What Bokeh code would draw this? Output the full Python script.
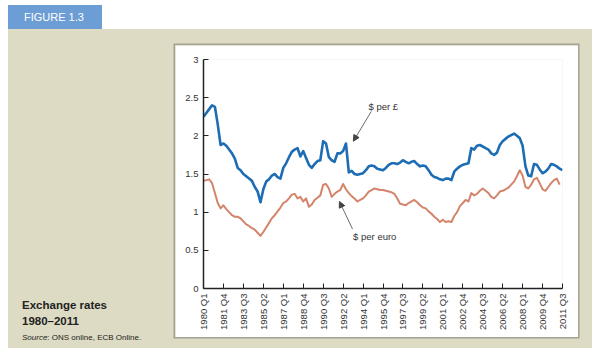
import math
from bokeh.plotting import figure
from bokeh.layouts import column, row
from bokeh.models import FixedTicker, Label, Arrow, NormalHead, Div
from bokeh.embed import file_html
from bokeh.resources import INLINE

# ---- data (quarterly, 1980 Q1 .. 2011 Q3) ----
usd_per_gbp = [
    2.25, 2.30, 2.35, 2.40, 2.38, 2.15, 1.88, 1.90, 1.87, 1.82,
    1.77, 1.70, 1.58, 1.55, 1.50, 1.47, 1.44, 1.41, 1.33, 1.27,
    1.13, 1.30, 1.40, 1.43, 1.48, 1.50, 1.46, 1.44, 1.58, 1.64,
    1.72, 1.79, 1.82, 1.84, 1.73, 1.80, 1.71, 1.62, 1.58, 1.63,
    1.67, 1.68, 1.93, 1.90, 1.72, 1.68, 1.66, 1.77, 1.77, 1.80,
    1.90, 1.52, 1.54, 1.50, 1.49, 1.50, 1.51, 1.55, 1.60, 1.61,
    1.60, 1.57, 1.56, 1.55, 1.58, 1.62, 1.64, 1.64, 1.63, 1.65,
    1.68, 1.66, 1.64, 1.66, 1.67, 1.63, 1.60, 1.61, 1.60, 1.55,
    1.49, 1.46, 1.45, 1.43, 1.42, 1.44, 1.44, 1.42, 1.53, 1.57,
    1.60, 1.62, 1.63, 1.64, 1.84, 1.82, 1.87, 1.88, 1.86, 1.84,
    1.82, 1.77, 1.75, 1.78, 1.88, 1.93, 1.96, 1.99, 2.01, 2.03,
    2.00, 1.97, 1.87, 1.60, 1.48, 1.47, 1.63, 1.62, 1.56, 1.51,
    1.53, 1.57, 1.63, 1.62, 1.60, 1.57, 1.55,
]
usd_per_euro = [
    1.41, 1.42, 1.43, 1.38, 1.25, 1.12, 1.05, 1.09, 1.04, 1.00,
    0.96, 0.94, 0.94, 0.92, 0.88, 0.84, 0.82, 0.79, 0.77, 0.73,
    0.69, 0.74, 0.80, 0.86, 0.92, 0.96, 1.01, 1.06, 1.12, 1.14,
    1.18, 1.23, 1.24, 1.18, 1.20, 1.14, 1.18, 1.07, 1.10, 1.16,
    1.19, 1.22, 1.36, 1.37, 1.31, 1.20, 1.24, 1.27, 1.29, 1.37,
    1.30, 1.25, 1.21, 1.18, 1.14, 1.16, 1.18, 1.22, 1.27, 1.29,
    1.31, 1.30, 1.29, 1.29, 1.28, 1.27, 1.26, 1.24, 1.18, 1.11,
    1.10, 1.09, 1.12, 1.14, 1.16, 1.13, 1.09, 1.06, 1.05, 1.01,
    0.98, 0.94, 0.91, 0.87, 0.90, 0.87, 0.88, 0.87, 0.95, 1.00,
    1.08, 1.12, 1.16, 1.14, 1.25, 1.22, 1.24, 1.28, 1.31, 1.28,
    1.25, 1.20, 1.18, 1.22, 1.27, 1.28, 1.30, 1.32, 1.36, 1.40,
    1.47, 1.55, 1.48, 1.33, 1.31, 1.36, 1.43, 1.45, 1.38, 1.30,
    1.28, 1.33, 1.38, 1.42, 1.44, 1.36,
]
tick_labels = [
    "1980 Q1", "1981 Q4", "1983 Q3", "1985 Q2", "1987 Q1", "1988 Q4",
    "1990 Q3", "1992 Q2", "1994 Q1", "1995 Q4", "1997 Q3", "1999 Q2",
    "2001 Q1", "2002 Q4", "2004 Q3", "2006 Q2", "2008 Q1", "2009 Q4", "2011 Q3",
]
y_ticks = [0, 0.5, 1, 1.5, 2, 2.5, 3]
y_tick_labels = ["0", "0.5", "1", "1.5", "2", "2.5", "3"]

quarter_gbp = list(range(len(usd_per_gbp)))
quarter_eur = list(range(len(usd_per_euro)))
tick_pos = [7 * i for i in range(len(tick_labels))]

BEIGE = "#dddbc3"
BLUE = "#1d6db4"
SALMON = "#d4846b"
TAB_BLUE = "#6c9dd5"
FONT = "Liberation Sans"
CSS_FONT = "'Liberation Sans', Arial, sans-serif"

# ---- chart ----
p = figure(width=403, height=292, output_backend="svg", toolbar_location=None,
           x_range=(0, 126), y_range=(0, 3),
           min_border_left=28, min_border_right=16, min_border_top=14, min_border_bottom=49,
           margin=(16, 14, 11, 0),
           styles={"box-shadow": "0 0 0 1.5px #a3a293"})
p.border_fill_color = "white"
p.background_fill_color = "white"
p.outline_line_color = None
p.xgrid.visible = False
p.ygrid.visible = False

p.line(quarter_gbp, usd_per_gbp, line_color=BLUE, line_width=2.6, line_join="round")
p.line(quarter_eur, usd_per_euro, line_color=SALMON, line_width=2.0, line_join="round")

p.xaxis.ticker = FixedTicker(ticks=tick_pos)
p.xaxis.major_label_overrides = {t: lab for t, lab in zip(tick_pos, tick_labels)}
p.xaxis.major_label_orientation = math.pi / 2
p.yaxis.ticker = FixedTicker(ticks=y_ticks)
p.yaxis.major_label_overrides = {t: lab for t, lab in zip(y_ticks, y_tick_labels)}
for ax in (p.xaxis[0], p.yaxis[0]):
    ax.axis_line_color = "#222222"
    ax.axis_line_width = 1.5
    ax.major_tick_line_color = "#222222"
    ax.major_tick_line_width = 1
    ax.major_tick_in = 5
    ax.major_tick_out = 0
    ax.minor_tick_line_color = None
    ax.major_label_text_font = FONT
    ax.major_label_text_font_size = "9.5px"
    ax.major_label_text_color = "#333333"
    ax.major_label_standoff = 5

p.add_layout(Label(x=57.9, y=2.38, text="$ per £", text_font=FONT, text_font_size="9.5px",
                   text_color="#333333", text_baseline="middle"))
p.add_layout(Arrow(x_start=58.9, y_start=2.32, x_end=52.6, y_end=1.93,
                   line_color="#444444", line_width=0.8,
                   end=NormalHead(size=6, fill_color="#444444", line_color="#444444")))
p.add_layout(Label(x=52.5, y=0.675, text="$ per euro", text_font=FONT, text_font_size="9.5px",
                   text_color="#333333", text_baseline="middle"))
p.add_layout(Arrow(x_start=52.3, y_start=0.78, x_end=47.7, y_end=1.14,
                   line_color="#444444", line_width=0.8,
                   end=NormalHead(size=6, fill_color="#444444", line_color="#444444")))

# ---- surrounding page pieces ----
tab = Div(text='<div style="padding-left:16px;line-height:24px;white-space:nowrap">FIGURE 1.3</div>',
          width=94, height=24, margin=(5, 0, 0, 8),
          styles={"background-color": TAB_BLUE, "color": "white", "font-family": CSS_FONT,
                  "font-size": "11px"})
side = Div(text='<div style="white-space:nowrap"><b>Exchange rates<br>1980–2011</b><br>'
                '<span style="font-size:8px"><i>Source</i>: ONS online, ECB Online.</span></div>',
           width=153, height=50, margin=(269, 0, 0, 14),
           styles={"font-family": CSS_FONT, "font-size": "11.5px", "line-height": "15.5px",
                   "color": "#222222"})
panel = row(side, p, spacing=0, margin=(0, 0, 0, 8), styles={"background-color": BEIGE})
page = column(tab, panel, spacing=0)

open("out.html", "w").write(file_html(page, INLINE))
